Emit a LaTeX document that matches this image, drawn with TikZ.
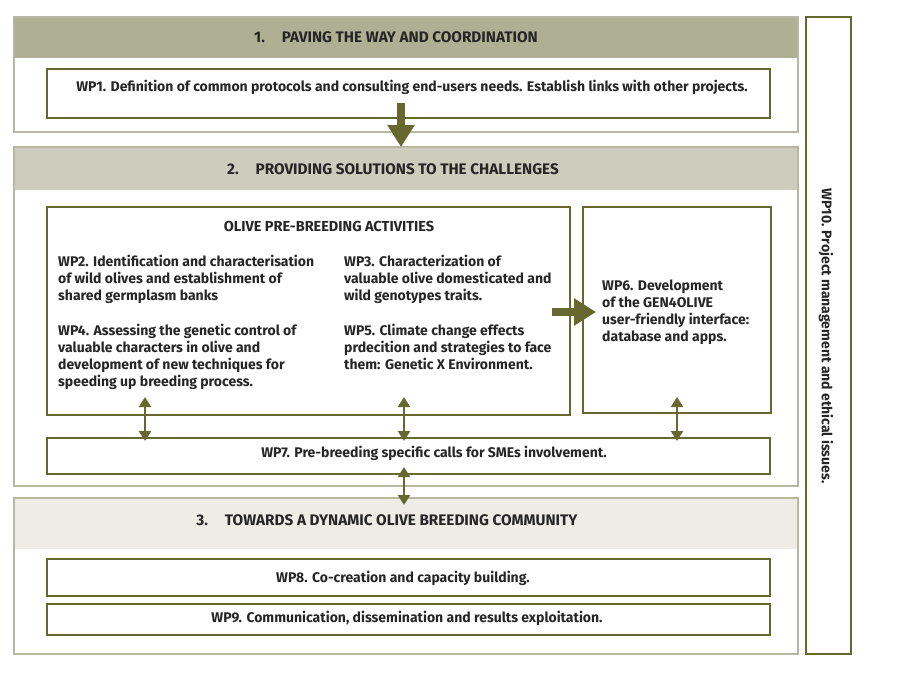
\documentclass[tikz,border=0pt]{standalone}
\usepackage{fontspec}
\setmainfont{Fira Sans}
\usetikzlibrary{arrows.meta,calc}
\definecolor{darkol}{RGB}{103,104,48}
\definecolor{secline}{RGB}{184,184,162}
\definecolor{hone}{RGB}{175,175,148}
\definecolor{htwo}{RGB}{205,205,189}
\definecolor{hthree}{RGB}{237,237,230}
\begin{document}
\begin{tikzpicture}[x=1pt,y=-1pt,
  font=\bfseries\fontsize{14}{17}\selectfont,
  secbox/.style={draw=secline, line width=2pt, anchor=north west, inner sep=0pt},
  band/.style={fill=#1, draw=none, anchor=north west, inner sep=0pt, outer sep=0pt},
  wpbox/.style={draw=darkol, line width=2pt, anchor=north west, inner sep=0pt},
  txt/.style={inner sep=0pt, align=left, anchor=north west, text=black!85},
  ctxt/.style={inner sep=0pt, anchor=center, text=black!85},
  htxt/.style={ctxt, font=\bfseries\fontsize{15.3}{18}\selectfont},
  dbl/.style={draw=darkol, line width=2.5pt, {Triangle[width=12pt,length=10pt]}-{Triangle[width=12pt,length=10pt]}},
  big/.style={draw=darkol, line width=8pt, -{Triangle[width=26pt,length=22pt]}}]
\useasboundingbox (0,0) rectangle (900,699);
\fill[white] (0,0) rectangle (900,699);
% Section 1
\node[band=hone, minimum width=784pt, minimum height=42pt] (h1) at (13,16) {};
\node[secbox, minimum width=784pt, minimum height=115pt] (s1) at (13,16) {};
\node[htxt] (h1t) at (396,37) {1.\hspace{1.1em}PAVING THE WAY AND COORDINATION};
\node[wpbox, minimum width=723pt, minimum height=49pt] (wp1) at (46,68) {};
\node[ctxt] (wp1t) at (412,87) {WP1. Definition of common protocols and consulting end-users needs. Establish links with other projects.};
% Section 2
\node[band=htwo, minimum width=784pt, minimum height=44pt] (h2) at (13,146) {};
\node[secbox, minimum width=784pt, minimum height=339pt] (s2) at (13,146) {};
\node[htxt] (h2t) at (393,169) {2.\hspace{1.1em}PROVIDING SOLUTIONS TO THE CHALLENGES};
\node[wpbox, minimum width=523pt, minimum height=208pt] (olive) at (46,206) {};
\node[ctxt, font=\bfseries\fontsize{14.5}{17}\selectfont] (olt) at (329,226) {OLIVE PRE-BREEDING ACTIVITIES};
\node[txt] (wp2) at (58,255) {WP2. Identification and characterisation\\of wild olives and establishment of\\shared germplasm banks};
\node[txt] (wp3) at (344,255) {WP3. Characterization of\\valuable olive domesticated and\\wild genotypes traits.};
\node[txt] (wp4) at (58,324) {WP4. Assessing the genetic control of\\valuable characters in olive and\\development of new techniques for\\speeding up breeding process.};
\node[txt] (wp5) at (344,324) {WP5. Climate change effects\\prdecition and strategies to face\\them: Genetic X Environment.};
\node[wpbox, minimum width=188pt, minimum height=206pt] (wp6) at (582,206) {};
\node[txt] (wp6t) at (602,280) {WP6. Development\\of the GEN4OLIVE\\user-friendly interface:\\database and apps.};
\node[wpbox, minimum width=723pt, minimum height=36pt] (wp7) at (46,437) {};
\node[ctxt] (wp7t) at (434,453) {WP7. Pre-breeding specific calls for SMEs involvement.};
% Section 3
\node[band=hthree, minimum width=784pt, minimum height=52pt] (h3) at (13,497) {};
\node[secbox, minimum width=784pt, minimum height=156pt] (s3) at (13,497) {};
\node[htxt] (h3t) at (387,520) {3.\hspace{1.1em}TOWARDS A DYNAMIC OLIVE BREEDING COMMUNITY};
\node[wpbox, minimum width=723pt, minimum height=37pt] (wp8) at (46,558) {};
\node[ctxt] (wp8t) at (403,578) {WP8. Co-creation and capacity building.};
\node[wpbox, minimum width=723pt, minimum height=31pt] (wp9) at (46,603) {};
\node[ctxt] (wp9t) at (407,618) {WP9. Communication, dissemination and results exploitation.};
% WP10
\node[wpbox, minimum width=45pt, minimum height=637pt] (wp10) at (805,16) {};
\node[ctxt, rotate=-90] (wp10t) at (826,336) {WP10. Project management and ethical issues.};
% Arrows
\coordinate (dA) at (401,103);
\draw[big, shorten >=-1pt] (dA) -- (dA |- h2.north);
\coordinate (rA) at (552,312);
\draw[big, shorten >=-14pt] (rA) -- (rA -| wp6.west);
\coordinate (d1) at (145,397);
\coordinate (d2) at (404,397);
\coordinate (d3) at (677,397);
\coordinate (d4) at (404,467);
\draw[dbl, shorten >=-4pt] (d1) -- (d1 |- wp7.north);
\draw[dbl, shorten >=-4pt] (d2) -- (d2 |- wp7.north);
\draw[dbl, shorten >=-4pt] (d3) -- (d3 |- wp7.north);
\draw[dbl, shorten >=-8pt] (d4) -- (d4 |- h3.north);
\end{tikzpicture}
\end{document}
